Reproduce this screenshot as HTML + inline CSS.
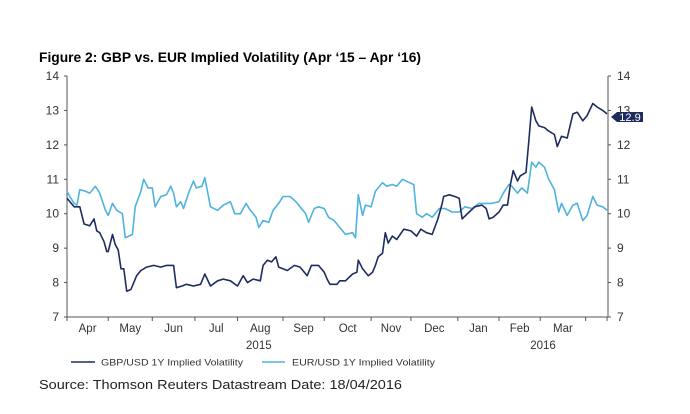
<!DOCTYPE html>
<html><head><meta charset="utf-8"><style>
body{margin:0;background:#fff;}
svg{display:block;font-family:"Liberation Sans",Arial,sans-serif;}
</style></head><body>
<svg id="chart" width="690" height="414" viewBox="0 0 690 414">
<text x="39" y="62" font-size="13.5" font-weight="bold" fill="#000" textLength="382" lengthAdjust="spacingAndGlyphs">Figure 2: GBP vs. EUR Implied Volatility (Apr ‘15 – Apr ‘16)</text>
<g id="axes"></g>
<g id="series"></g>
<g>
<polygon points="611,117 617,112 643,112 643,122 617,122" fill="#1f2d5e"/>
<text x="630" y="121" font-size="11" fill="#fff" text-anchor="middle">12.9</text>
</g>
<g>
<line x1="71" y1="362" x2="95" y2="362" stroke="#1f2d5e" stroke-width="1.6"/>
<text x="101" y="365.5" font-size="9.5" fill="#333" textLength="142" lengthAdjust="spacingAndGlyphs">GBP/USD 1Y Implied Volatility</text>
<line x1="262" y1="362" x2="285" y2="362" stroke="#4fb3e0" stroke-width="1.6"/>
<text x="292" y="365.5" font-size="9.5" fill="#333" textLength="143" lengthAdjust="spacingAndGlyphs">EUR/USD 1Y Implied Volatility</text>
</g>
<text x="39" y="389" font-size="13" fill="#222" textLength="363" lengthAdjust="spacingAndGlyphs">Source: Thomson Reuters Datastream Date: 18/04/2016</text>
</svg>
<script>
const gbpDays=[0,5,9,12,16,19,21,23,26,28,29,32,34,36,38,40,42,45,47,49,52,56,61,66,70,75,77,81,84,89,94,97,101,106,110,115,120,124,127,131,136,138,141,144,147,149,152,155,160,164,169,172,177,181,183,185,190,192,196,201,204,205,208,212,215,217,219,222,224,226,229,232,237,242,246,249,253,257,261,264,265,269,273,276,278,283,287,292,295,297,300,304,307,310,312,314,317,319,323,325,327,330,332,336,339,343,345,348,352,356,359,363,366,370,373,377,380];
const gbpVals=[10.45,10.2,10.2,9.7,9.65,9.85,9.5,9.45,9.2,8.9,8.9,9.4,9.1,8.95,8.4,8.4,7.75,7.8,8.0,8.2,8.35,8.45,8.5,8.45,8.5,8.5,7.85,7.9,7.95,7.9,7.95,8.25,7.9,8.05,8.1,8.05,7.9,8.2,8.0,8.1,8.05,8.5,8.65,8.6,8.75,8.45,8.4,8.35,8.5,8.45,8.2,8.5,8.5,8.3,8.1,7.95,7.95,8.05,8.05,8.25,8.3,8.65,8.4,8.2,8.3,8.5,8.75,8.85,9.45,9.15,9.35,9.25,9.55,9.5,9.35,9.55,9.45,9.4,9.85,10.3,10.5,10.55,10.5,10.45,9.85,10.05,10.2,10.25,10.15,9.85,9.9,10.05,10.25,10.25,10.85,11.25,10.95,11.1,11.2,12.1,13.1,12.7,12.55,12.5,12.4,12.3,11.95,12.25,12.2,12.9,12.95,12.7,12.85,13.2,13.1,13.0,12.9];
const eurDays=[0,2,5,7,9,13,16,20,23,27,29,32,35,39,41,46,48,52,54,57,60,62,66,70,73,75,77,80,82,86,89,91,95,97,101,106,110,115,118,122,126,129,133,135,138,142,145,149,152,157,161,164,168,170,174,177,181,184,188,192,196,201,203,205,208,210,214,217,222,225,229,232,236,241,244,246,250,253,257,262,266,271,276,280,285,290,295,299,304,307,311,313,317,320,324,327,330,332,336,339,343,346,348,352,356,359,363,366,370,373,377,380];
const eurVals=[10.65,10.5,10.3,10.25,10.7,10.65,10.6,10.8,10.6,10.1,9.95,10.3,10.1,10.0,9.3,9.4,10.2,10.65,11.0,10.75,10.75,10.2,10.5,10.55,10.8,10.6,10.2,10.35,10.15,10.65,10.95,10.75,10.8,11.05,10.2,10.1,10.25,10.35,10.0,10.0,10.3,10.1,9.9,9.6,9.8,9.75,10.1,10.3,10.5,10.5,10.35,10.2,10.0,9.75,10.15,10.2,10.15,9.9,9.8,9.6,9.4,9.45,9.3,10.55,9.95,10.25,10.2,10.65,10.9,10.8,10.85,10.8,11.0,10.9,10.85,10.0,9.9,10.0,9.9,10.15,10.15,10.05,10.05,10.2,10.15,10.3,10.3,10.3,10.35,10.6,10.85,10.8,10.6,10.75,10.6,11.5,11.35,11.5,11.35,11.0,10.7,10.05,10.3,9.95,10.25,10.3,9.8,9.95,10.5,10.25,10.2,10.1];
const yTicks=[7,8,9,10,11,12,13,14];
const monthTickDays=[0,29,60,90,120,152,181,214,242,275,304,333,365,380];
const monthLabels=["Apr","May","Jun","Jul","Aug","Sep","Oct","Nov","Dec","Jan","Feb","Mar"];
const yearLabels=["2015","2016"];
const yearLabelDays=[135,335];

const X0=67,X1=607,D0=0,D1=380,Y0=317,Y1=76,V0=7,V1=14;
const xs=d=>X0+(d-D0)/(D1-D0)*(X1-X0);
const ys=v=>Y0-(v-V0)/(V1-V0)*(Y0-Y1);
const NS="http://www.w3.org/2000/svg";
function mk(tag,attrs,parent){const e=document.createElementNS(NS,tag);for(const k in attrs)e.setAttribute(k,attrs[k]);parent.appendChild(e);return e;}
const axes=document.getElementById('axes'),series=document.getElementById('series');
const AX="#555";
let e;
e=mk('line',{x1:X0,y1:Y1,x2:X0,y2:Y0,stroke:AX,'stroke-width':1},axes);


e=mk('line',{x1:608,y1:Y1,x2:608,y2:Y0,stroke:AX,'stroke-width':1},axes);


e=mk('line',{x1:X0,y1:Y0,x2:608,y2:Y0,stroke:AX,'stroke-width':1},axes);


yTicks.forEach(v=>{
  const y=ys(v);
  mk('line',{x1:X0-3,y1:y,x2:X0,y2:y,stroke:AX},axes);
  mk('line',{x1:608,y1:y,x2:611,y2:y,stroke:AX},axes);
  e=mk('text',{x:59,y:y+4,'font-size':12,fill:'#333','text-anchor':'end'},axes);e.textContent=v;
  
  
  e=mk('text',{x:617,y:y+4,'font-size':12,fill:'#333'},axes);e.textContent=v;
  
  
});
monthTickDays.forEach(d=>{const x=Math.min(xs(d),608);mk('line',{x1:x,y1:Y0,x2:x,y2:Y0+4,stroke:AX},axes);});
monthLabels.forEach((m,i)=>{
  const x=(xs(monthTickDays[i])+xs(monthTickDays[i+1]))/2;
  e=mk('text',{x:x,y:332,'font-size':11.5,fill:'#333','text-anchor':'middle'},axes);e.textContent=m;
  
  
});
yearLabels.forEach((t,i)=>{
  e=mk('text',{x:xs(yearLabelDays[i]),y:349,'font-size':11.5,fill:'#333','text-anchor':'middle'},axes);e.textContent=t;
  
  
});
function line(days,vals,color,name){
  const d=days.map((t,i)=>(i?'L':'M')+xs(t).toFixed(1)+','+ys(vals[i]).toFixed(1)).join('');
  const p=mk('path',{d:d,fill:'none',stroke:color,'stroke-width':1.6,'stroke-linejoin':'round'},series);
  
  
}
line(eurDays,eurVals,'#4fb3e0','eur-usd-line');
line(gbpDays,gbpVals,'#1f2d5e','gbp-usd-line');
</script>
</body></html>
